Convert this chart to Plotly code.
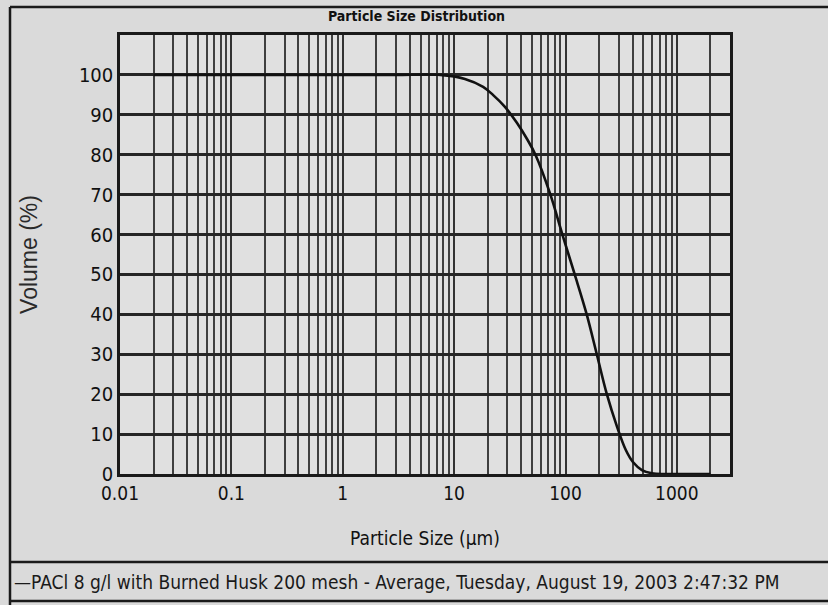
import plotly.graph_objects as go

# ---- data ----
particle_size_um = [0.02, 0.1, 1, 3, 7.5, 12.5, 18.2, 22.3, 28.6, 36.6, 45.0, 53.7, 73.2,
                    93.8, 121, 155, 191, 235, 289, 348, 403, 485, 597, 780, 1200, 2000]
volume_pct = [100, 100, 100, 100, 100, 99, 97, 95, 92, 88, 84, 80, 70,
              60, 50, 40, 30, 20, 12, 6, 3, 1, 0.2, 0, 0, 0]

x_tick_vals = [0.01, 0.1, 1, 10, 100, 1000]
x_tick_text = ["0.01", "0.1", "1", "10", "100", "1000"]
y_tick_vals = [0, 10, 20, 30, 40, 50, 60, 70, 80, 90, 100]

title_text = "Particle Size Distribution"
x_title = "Particle Size (µm)"
y_title = "Volume (%)"
legend_text = "—PACl 8 g/l with Burned Husk 200 mesh - Average, Tuesday, August 19, 2003 2:47:32 PM"

# ---- styling ----
W, H = 828, 605
L, R, T, B = 120, 98, 35, 131
plot_h = H - T - B
plot_w = W - L - R
NARROW = "Liberation Sans Narrow, Arial Narrow, DejaVu Sans Condensed, sans-serif"
GRID = "#333333"

minor_vals = []
for d in range(-2, 4):
    for m in range(2, 10):
        v = m * 10 ** d
        if v <= 3000:
            minor_vals.append(v)


def px_x(px):
    return (px - L) / plot_w


def px_y(py):
    return (H - B - py) / plot_h


fig = go.Figure()
fig.add_trace(go.Scatter(
    x=particle_size_um, y=volume_pct, mode="lines",
    line=dict(color="#111111", width=2.6, shape="spline", smoothing=1.0),
    showlegend=False, hoverinfo="skip",
))

fig.update_layout(
    width=W, height=H,
    margin=dict(l=L, r=R, t=T, b=B),
    paper_bgcolor="#dadada",
    plot_bgcolor="#e0e0e0",
    showlegend=False,
    xaxis=dict(
        type="log", range=[-2, 3.477],
        tickvals=x_tick_vals, ticktext=x_tick_text,
        showgrid=True, gridcolor=GRID, gridwidth=2,
        minor=dict(tickvals=minor_vals, showgrid=True, gridcolor="#3f3f3f", gridwidth=1.8, ticks=""),
        showline=True, linecolor="#1a1a1a", linewidth=2.5, mirror=True,
        ticks="", zeroline=False,
        tickfont=dict(family=NARROW, size=19, color="#111111"),
        title=dict(text=x_title, font=dict(family=NARROW, size=19, color="#111111"), standoff=30),
    ),
    yaxis=dict(
        range=[0, 110], tickvals=y_tick_vals,
        showgrid=True, gridcolor="#262626", gridwidth=2.5,
        showline=True, linecolor="#1a1a1a", linewidth=2.5, mirror=True,
        ticks="", zeroline=False,
        tickfont=dict(family=NARROW, size=20, color="#111111"),
        title=dict(text=y_title, font=dict(family="Liberation Sans, Arial, sans-serif", size=23, color="#2a2a2a"), standoff=35),
    ),
    annotations=[
        dict(text="<b>" + title_text + "</b>", xref="paper", yref="paper",
             x=px_x(416), y=px_y(16), xanchor="center", yanchor="middle", showarrow=False,
             font=dict(family=NARROW, size=14, color="#111111")),
        dict(text=legend_text, xref="paper", yref="paper",
             x=px_x(12), y=px_y(582), xanchor="left", yanchor="middle", showarrow=False,
             font=dict(family=NARROW, size=19, color="#1a1a1a")),
    ],
    shapes=[
        dict(type="line", xref="paper", yref="paper", x0=px_x(10), x1=px_x(828), y0=px_y(7), y1=px_y(7),
             line=dict(color="#1a1a1a", width=2.5)),
        dict(type="line", xref="paper", yref="paper", x0=px_x(10), x1=px_x(10), y0=px_y(7), y1=px_y(605),
             line=dict(color="#1a1a1a", width=2.5)),
        dict(type="line", xref="paper", yref="paper", x0=px_x(10), x1=px_x(828), y0=px_y(562), y1=px_y(562),
             line=dict(color="#1a1a1a", width=2.5)),
        dict(type="line", xref="paper", yref="paper", x0=px_x(10), x1=px_x(828), y0=px_y(601), y1=px_y(601),
             line=dict(color="#1a1a1a", width=2.5)),
    ],
)

fig.write_html("out.html")
